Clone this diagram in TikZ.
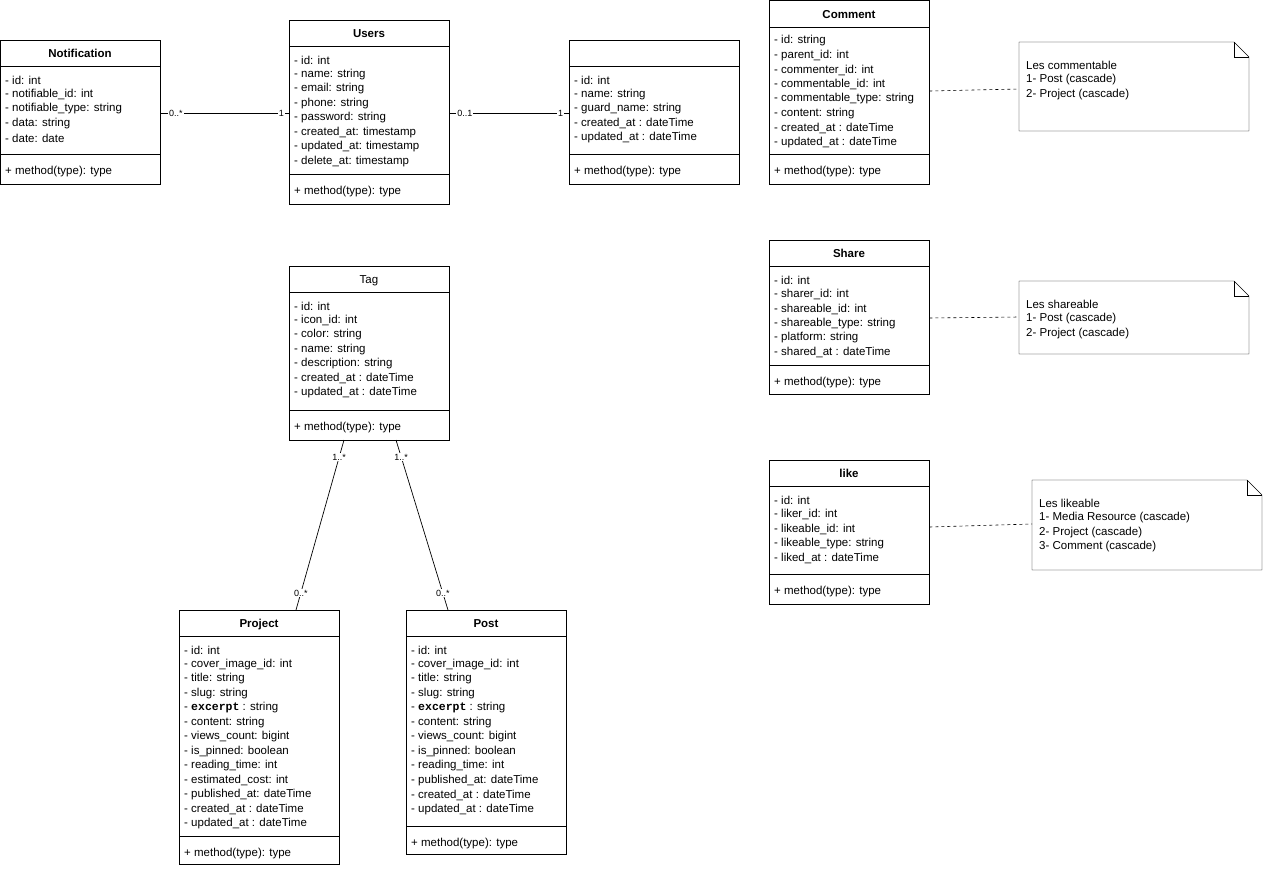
\documentclass[tikz,border=0pt]{standalone}
\usepackage{fontspec}
\setmainfont{Liberation Sans}
\setmonofont{Liberation Mono}
\begin{document}
\begin{tikzpicture}[x=1pt,y=-1pt,
  box/.style={draw,anchor=north west,inner sep=0,fill=white},
  txt/.style={anchor=west,inner sep=0,font=\fontsize{11.5}{13}\selectfont},
  ttl/.style={anchor=base,inner sep=0,font=\fontsize{11.5}{13}\selectfont},
  mult/.style={inner sep=1pt,fill=white,font=\fontsize{9}{10}\selectfont},
  assoc/.style={draw,line width=0.7pt},
  dep/.style={draw,dashed,line width=0.6pt}]
\useasboundingbox (0,0) rectangle (1264,868);
\newcommand\uclass[9]{%
 \node[box, minimum width=#4, minimum height=#5] (#1) at (#2,#3) {};
 \draw (#2,#3+#6) -- ++(#4,0);
 \draw (#2,#7) -- ++(#4,0);
 \node[ttl] at (#2+#4/2,#3+#6/2+4.5) {#8};
 \foreach[count=\i] \t in {#9} \node[txt] at (#2+5,#3+#6+14+14.5*\i-14.5) {\t};
 \node[txt] at (#2+5,#7+18) {+ method(type): type};
}
\newcommand\unote[6]{%
 \draw (#2,#3) -- (#2+#4-15,#3) -- (#2+#4,#3+15) -- (#2+#4,#3+#5) -- (#2,#3+#5) -- cycle;
 \draw (#2+#4-15,#3) -- (#2+#4-15,#3+15) -- (#2+#4,#3+15);
 \coordinate (#1) at (#2,#3+#5/2);
 \foreach[count=\i] \t in {#6} \node[txt] at (#2+7,#3+23.5+14.5*\i-14.5) {\t};
}
\uclass{notif}{0}{40}{160}{144}{26}{154}{\textbf{Notification}}{- id: int,- notifiable\_id: int,- notifiable\_type: string,- data: string,- date: date}
\uclass{users}{289}{20}{160}{184}{26}{174}{\textbf{Users}}{- id: int,- name: string,- email: string,- phone: string,- password: string,- created\_at: timestamp,- updated\_at: timestamp,- delete\_at: timestamp}
\uclass{role}{569}{40}{170}{144}{26}{154}{}{- id: int,- name: string,- guard\_name: string,- created\_at : dateTime,- updated\_at : dateTime}
\uclass{comment}{769}{0}{160}{184}{27}{154}{\textbf{Comment}}{- id: string,- parent\_id: int,- commenter\_id: int,- commentable\_id: int,- commentable\_type: string,- content: string,- created\_at : dateTime,- updated\_at : dateTime}
\uclass{share}{769}{240}{160}{154}{26}{365}{\textbf{Share}}{- id: int,- sharer\_id: int,- shareable\_id: int,- shareable\_type: string,- platform: string,- shared\_at : dateTime}
\uclass{like}{769}{460}{160}{144}{26}{574}{\textbf{like}}{- id: int,- liker\_id: int,- likeable\_id: int,- likeable\_type: string,- liked\_at : dateTime}
\uclass{tag}{289}{266}{160}{174}{26}{410}{Tag}{- id: int,- icon\_id: int,- color: string,- name: string,- description: string,- created\_at : dateTime,- updated\_at : dateTime}
\uclass{project}{179}{610}{160}{254}{26}{836}{\textbf{Project}}{- id: int,- cover\_image\_id: int,- title: string,- slug: string,- \texttt{\textbf{excerpt}} : string,- content: string,- views\_count: bigint,- is\_pinned: boolean,- reading\_time: int,- estimated\_cost: int,- published\_at: dateTime,- created\_at : dateTime,- updated\_at : dateTime}
\uclass{post}{406}{610}{160}{244}{26}{826}{\textbf{Post}}{- id: int,- cover\_image\_id: int,- title: string,- slug: string,- \texttt{\textbf{excerpt}} : string,- content: string,- views\_count: bigint,- is\_pinned: boolean,- reading\_time: int,- published\_at: dateTime,- created\_at : dateTime,- updated\_at : dateTime}
\unote{n1}{1019}{42}{230}{89}{Les commentable,1- Post (cascade),2- Project (cascade)}
\unote{n2}{1019}{281}{230}{73}{Les shareable,1- Post (cascade),2- Project (cascade)}
\unote{n3}{1032}{480}{230}{90}{Les likeable,1- Media Resource (cascade),2- Project (cascade),3- Comment (cascade)}
% associations
\draw[assoc] (notif.east|-0,113) -- (users.west|-0,113)
  node[mult,pos=0.12]{0..*} node[mult,pos=0.94]{1};
\draw[assoc] (users.east|-0,113) -- (role.west|-0,113)
  node[mult,pos=0.13]{0..1} node[mult,pos=0.93]{1};
\draw[assoc] (344,440) -- (296,610)
  node[mult,pos=0.1]{1..*} node[mult,pos=0.9]{0..*};
\draw[assoc] (396,440) -- (448,610)
  node[mult,pos=0.1]{1..*} node[mult,pos=0.9]{0..*};
% dependencies to notes
\draw[dep] (comment.east|-0,91) -- (n1|-0,89);
\draw[dep] (share.east|-0,318) -- (n2|-0,317);
\draw[dep] (like.east|-0,527) -- (n3|-0,524);
\end{tikzpicture}
\end{document}
